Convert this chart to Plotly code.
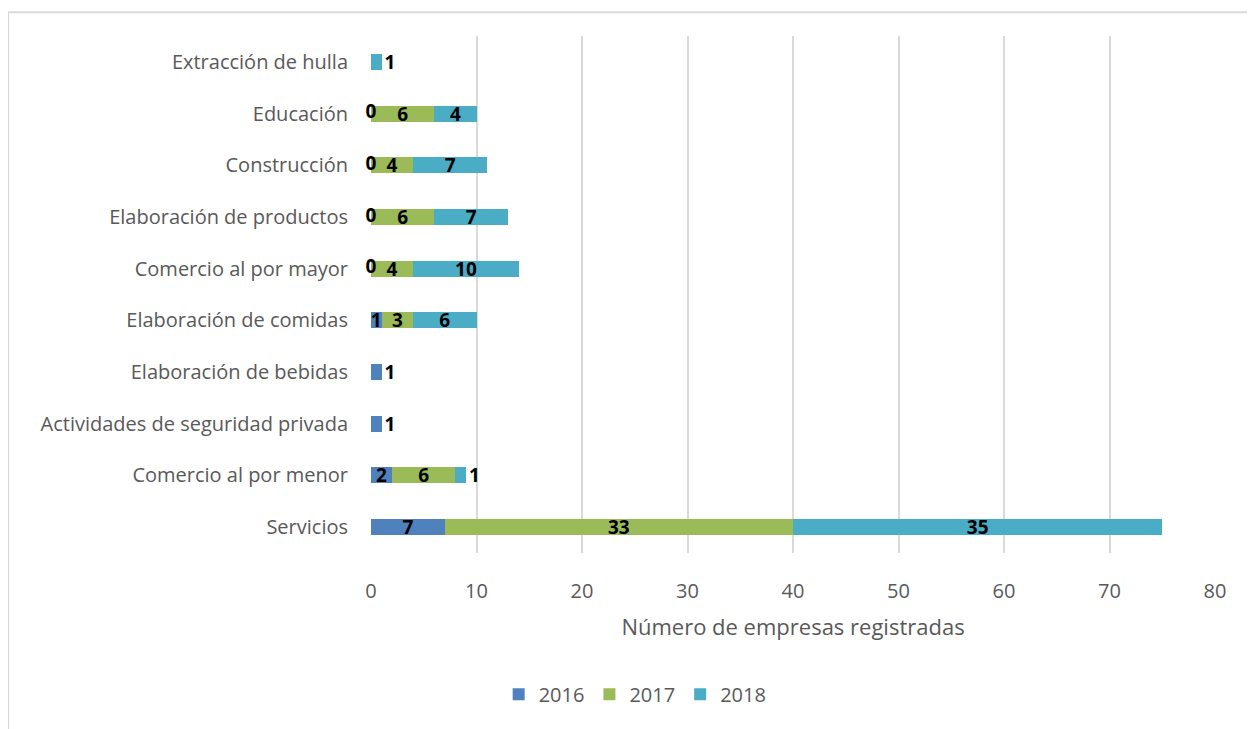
import plotly.graph_objects as go

categories = [
    "Servicios",
    "Comercio al por menor",
    "Actividades de seguridad privada",
    "Elaboración de bebidas",
    "Elaboración de comidas",
    "Comercio al por mayor",
    "Elaboración de productos",
    "Construcción",
    "Educación",
    "Extracción de hulla",
]
years = ["2016", "2017", "2018"]
v2016 = [7, 2, 1, 1, 1, 0, 0, 0, 0, None]
v2017 = [33, 6, None, None, 3, 4, 6, 4, 6, None]
v2018 = [35, 1, None, None, 6, 10, 7, 7, 4, 1]
colors = ["#4F81BD", "#9BBB59", "#4BACC6"]
x_ticks = [0, 10, 20, 30, 40, 50, 60, 70, 80]

FONT = "Open Sans"
TXT = "#595959"
LABEL_FONT = dict(family=FONT, size=19, color="black", weight="bold")

fig = go.Figure()
series = [v2016, v2017, v2018]
for k, (name, vals, col) in enumerate(zip(years, series, colors)):
    texts, positions = [], []
    for i, v in enumerate(vals):
        if v is None or v == 0:
            texts.append("")
            positions.append("inside")
            continue
        texts.append(str(v))
        # lone small segment at the end of a stack -> label outside
        later = [s[i] for s in series[k + 1:]]
        last = all(x is None for x in later)
        positions.append("outside" if (v == 1 and last) else "inside")
    fig.add_trace(go.Bar(
        name=name, y=categories, x=vals, orientation="h",
        marker=dict(color=col, line_width=0),
        text=texts, textposition=positions, textangle=0,
        insidetextanchor="middle", constraintext="none",
        textfont=LABEL_FONT, insidetextfont=LABEL_FONT, outsidetextfont=LABEL_FONT,
        cliponaxis=False, hoverinfo="x+y+name",
    ))

# zero labels (zero-width segments carry no bar text)
zero_cats = [c for c, v in zip(categories, v2016) if v == 0]
fig.add_trace(go.Scatter(
    x=[0] * len(zero_cats), y=zero_cats, mode="text",
    text=["0"] * len(zero_cats), textfont=LABEL_FONT,
    textposition="middle center", showlegend=False, hoverinfo="skip",
    cliponaxis=False,
))

grid = "#d9d9d9"
fig.update_layout(
    barmode="stack",
    bargap=0.69,
    width=1255, height=729,
    margin=dict(l=363, r=48, t=28, b=184),
    paper_bgcolor="white", plot_bgcolor="white",
    font=dict(family=FONT, color=TXT, size=20),
    legend=dict(
        orientation="h", x=0.313, xanchor="center", y=-0.273, yanchor="middle",
        font=dict(size=20, color=TXT), traceorder="normal",
    ),
    xaxis=dict(
        range=[0, 80], tickvals=x_ticks, showgrid=True, gridcolor=grid,
        gridwidth=1.5, zeroline=False, showline=False, ticks="",
        ticklabelstandoff=24,
        tickfont=dict(size=20, color=TXT),
        title=dict(text="Número de empresas registradas", standoff=16,
                   font=dict(size=22, color=TXT)),
    ),
    yaxis=dict(
        categoryorder="array", categoryarray=categories, showgrid=False,
        zeroline=False, showline=False, ticks="", ticklabelstandoff=22,
        tickfont=dict(size=20, color=TXT),
    ),
    shapes=[
        dict(type="rect", xref="paper", yref="paper", x0=-0.430, x1=1.2,
             y0=1.046, y1=-0.5, line=dict(color=grid, width=2),
             fillcolor="rgba(0,0,0,0)", layer="below"),
    ],
)

fig.write_html("out.html")
